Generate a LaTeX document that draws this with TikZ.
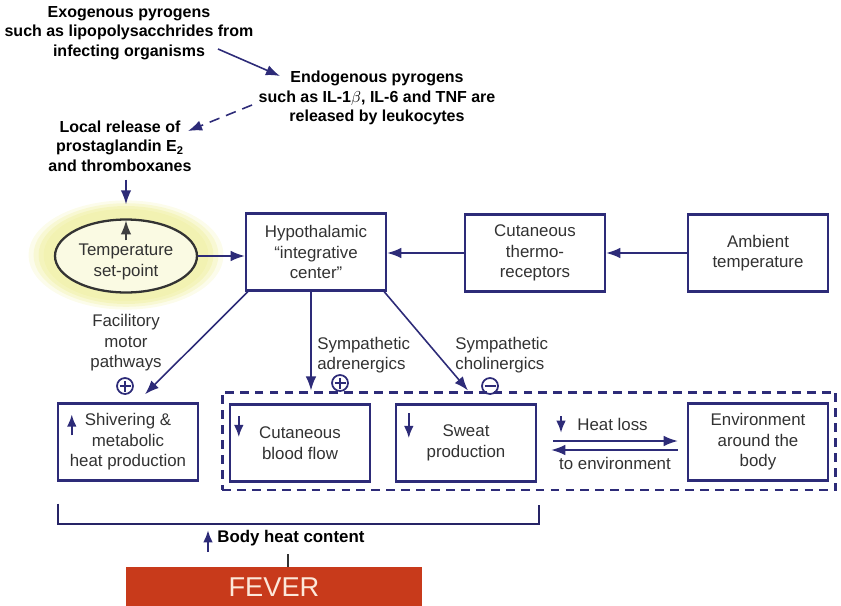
\documentclass[tikz,border=0pt]{standalone}
\usepackage{fontspec}
\setmainfont{Liberation Sans}
\usetikzlibrary{arrows.meta,calc,shapes.geometric}

\definecolor{navy}{RGB}{45,43,120}
\definecolor{glow}{RGB}{242,242,175}
\definecolor{feverred}{RGB}{200,58,27}
\definecolor{fevertext}{RGB}{252,232,218}
\definecolor{labelgray}{RGB}{50,50,50}

\begin{document}
\begin{tikzpicture}[x=0.02cm,y=-0.02cm,>={Latex[length=8pt,width=6pt]},
		font=\fontsize{9.6}{11.6}\selectfont]
				\tikzstyle{box}=[draw=navy,line width=1.4pt,minimum width=2.8cm,minimum height=1.54cm,align=center,text=labelgray,inner sep=2pt]
				\tikzstyle{cause}=[align=center,font=\fontsize{9.1}{11.1}\selectfont\bfseries,inner sep=0pt]
				\tikzstyle{note}=[align=left,text=labelgray,inner sep=0pt]
				\tikzstyle{arr}=[->,draw=navy,line width=0.9pt]
				\tikzstyle{tick}=[->,draw=navy,line width=1.3pt,>={Latex[length=7pt,width=5.5pt]}]
				\tikzstyle{sign}=[circle,draw=navy,line width=1pt,inner sep=0pt,minimum size=0.32cm]
				\tikzstyle{plus}=[sign,path picture={\draw[navy,line width=0.9pt]
						([xshift=-0.11cm]path picture bounding box.center) -- ([xshift=0.11cm]path picture bounding box.center)
						([yshift=-0.11cm]path picture bounding box.center) -- ([yshift=0.11cm]path picture bounding box.center);}]
				\tikzstyle{minus}=[sign,path picture={\draw[navy,line width=0.9pt]
						([xshift=-0.11cm]path picture bounding box.center) -- ([xshift=0.11cm]path picture bounding box.center);}]
				\useasboundingbox (0,0) rectangle (841,605);
				%Pyrogens
				\node[cause](exo) at (129,33){Exogenous pyrogens\\such as lipopolysacchrides from\\infecting organisms};
				\node[cause](endo) at (377,98){Endogenous pyrogens\\such as IL-1$\beta$, IL-6 and TNF are\\released by leukocytes};
				\node[cause](local) at (120,146){Local release of\\prostaglandin E\textsubscript{2}\\and thromboxanes};
				\draw[arr]($(exo)+(89,16)$) -- ($(endo)+(-97,-22)$);
				\draw[arr,dash pattern=on 6pt off 4pt]($(endo)+(-125,7)$) -- ($(local)+(68,-15)$);
				%Set-point row
				\foreach \r/\o in {1.95/0.25,1.85/0.4,1.75/0.6,1.65/0.8}
					\fill[glow,opacity=\o] (126,255) ellipse [x radius=\r cm, y radius=\r cm*0.56];
				\node[ellipse,draw=black!80,fill=white!65!glow,line width=1.3pt,minimum width=2.84cm,minimum height=1.46cm,inner sep=0pt](sp) at (126,256){};
				\node[note,align=center](spt) at ($(sp)+(0,6)$){Temperature\\set-point};
				\node[box](hypo) at (316,252){Hypothalamic\\``integrative\\center''};
				\node[box](cutan) at (535,253){Cutaneous\\thermo-\\receptors};
				\node[box](amb) at (758,253){Ambient\\temperature};
				\draw[arr](sp.north |- local.south) ++(0,8) -- ($(sp.north)+(0,-14)$);
				\draw[arr,draw=black!75]($(sp.north)+(0,22)$) -- ($(sp.north)+(0,2)$);
				\draw[arr](sp.east) -- (sp.east -| hypo.west);
				\draw[arr](amb) -- (cutan);
				\draw[arr](cutan.west) -- (cutan.west -| hypo.east);
				%Effector row
				\node[box](shiver) at (128,442){Shivering \&\\metabolic\\heat production};
				\node[draw=navy,line width=1.7pt,dash pattern=on 5pt off 3.5pt,minimum width=12.28cm,minimum height=1.96cm](loss) at (529,441){};
				\node[box](blood) at (300,443){Cutaneous\\blood flow};
				\node[box](sweat) at (466,443){Sweat\\production};
				\node[box](env) at (758,442){Environment\\around the\\body};
				\draw[tick]($(shiver.north west)+(15,33)$) -- ++(0,-21);
				\draw[tick]($(blood.north west)+(10,13)$) -- ++(0,21);
				\draw[tick]($(sweat.north west)+(14,10)$) -- ++(0,25);
				%Efferent pathways
				\draw[arr]($(hypo.south west)+(3,0)$) -- ($(shiver.north)+(17,-8)$);
				\draw[arr]($(hypo.south)+(-5,0)$) -- ($(loss.north)+(-218,0)$);
				\draw[arr]($(hypo.south east)+(-3,0)$) -- ($(sweat.north |- loss.north)+(2,0)$);
				\node[note,align=center](fac) at (126,343){Facilitory\\motor\\pathways};
				\node[plus](facs) at (125,386){};
				\node[note,anchor=west](adr) at (317,355){Sympathetic\\adrenergics};
				\node[plus](adrs) at (340,383){};
				\node[note,anchor=west](cho) at (455,355){Sympathetic\\cholinergics};
				\node[minus](chos) at (490,386){};
				%Heat exchange
				\draw[arr]([shift={(16,-2)}]sweat.east) -- ([shift={(-9,-1)}]env.west);
				\draw[arr]([shift={(-9,8)}]env.west) -- ([shift={(14,7)}]sweat.east);
				\node[note,anchor=west](hl) at (577,424){Heat loss};
				\node[note](toenv) at (615,463){to environment};
				\draw[tick]($(hl.west)+(-16,-8)$) -- ++(0,17);
				%Body heat and fever
				\draw[navy!85!black,line width=1.1pt]($(shiver.south west)+(1,22)$) -- ++(0,20) -| ($(sweat.south east)+(2,22)$);
				\node[cause,anchor=west,font=\fontsize{9.6}{11.2}\selectfont\bfseries](bhc) at (217,538){Body heat content};
				\draw[tick]($(bhc.west)+(-9,14)$) -- ++(0,-22);
				\node[fill=feverred,minimum width=5.92cm,minimum height=0.8cm,text=fevertext,font=\fontsize{15.5}{18}\selectfont](fever) at (274,587){FEVER};
				\draw[black!80,line width=1.2pt]($(fever.north)+(14,0)$) -- ++(0,-13);
\end{tikzpicture}
\end{document}
